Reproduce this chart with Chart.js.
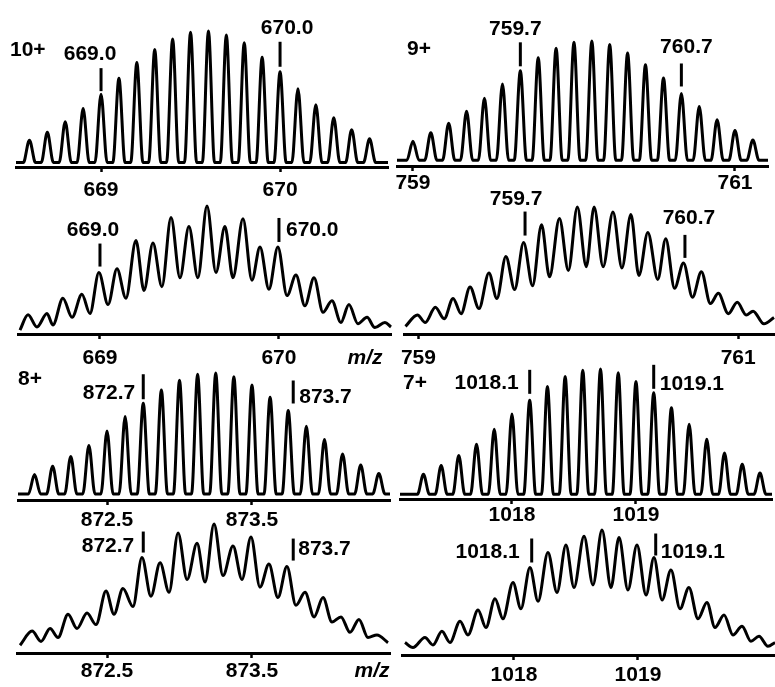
<!DOCTYPE html>
<html>
<head>
<meta charset="utf-8">
<script src="https://cdn.jsdelivr.net/npm/chart.js@4.4.1/dist/chart.umd.min.js"></script>
<style>
  html, body { margin: 0; padding: 0; background: #fff; }
  #figure { position: relative; width: 775px; height: 687px; overflow: hidden; }
  #figure canvas { position: absolute; }
</style>
</head>
<body>
<div id="figure"></div>
<script>
// ---- isotope peaks, high resolution (m/z, relative intensity) ----
const mz10 = [668.6, 668.7, 668.8, 668.9, 669.0, 669.1, 669.2, 669.3, 669.4, 669.5, 669.6, 669.7, 669.8, 669.9, 670.0, 670.1, 670.2, 670.3, 670.4, 670.5];
const int10 = [17, 23, 31, 41, 52, 64, 76, 86, 94, 99, 100, 97, 91, 80, 69, 56, 44, 34, 25, 18];

const mz9 = [759.000, 759.111, 759.222, 759.333, 759.444, 759.556, 759.667, 759.778, 759.889, 760.000, 760.111, 760.222, 760.333, 760.444, 760.556, 760.667, 760.778, 760.889, 761.000, 761.111];
const int9 = [16, 23, 31, 41, 52, 64, 75, 86, 94, 99, 100, 97, 90, 80, 69, 56, 45, 34, 25, 17];

const mz8 = [872.000, 872.125, 872.250, 872.375, 872.500, 872.625, 872.750, 872.875, 873.000, 873.125, 873.250, 873.375, 873.500, 873.625, 873.750, 873.875, 874.000, 874.125, 874.250, 874.375];
const int8 = [16, 23, 31, 40, 52, 64, 75, 86, 94, 99, 100, 97, 90, 80, 69, 56, 45, 33, 24, 17];

const mz7 = [1017.286, 1017.429, 1017.571, 1017.714, 1017.857, 1018.000, 1018.143, 1018.286, 1018.429, 1018.571, 1018.714, 1018.857, 1019.000, 1019.143, 1019.286, 1019.429, 1019.571, 1019.714, 1019.857, 1020.000];
const int7 = [16, 23, 31, 40, 52, 64, 75, 86, 94, 99, 100, 97, 90, 81, 69, 56, 44, 33, 24, 17];

// ---- low resolution traces (maxima / minima of the profile) ----
const lowMz10 = [668.553, 668.598, 668.648, 668.704, 668.737, 668.793, 668.844, 668.899, 668.944, 668.994, 669.045, 669.095, 669.145, 669.201, 669.246, 669.296, 669.346, 669.397, 669.447, 669.497, 669.547, 669.598, 669.648, 669.698, 669.743, 669.799, 669.849, 669.894, 669.944, 669.994, 670.045, 670.095, 670.145, 670.196, 670.246, 670.296, 670.346, 670.391, 670.441, 670.492, 670.536, 670.592, 670.626];
const lowInt10 = [3, 15, 5.5, 16, 7, 28, 13, 31, 16, 48, 23, 51, 28, 73, 34, 71, 37, 91, 44, 84, 44, 100, 48, 84, 44, 90, 42, 68, 35, 68, 30, 46, 22, 44, 17, 26, 9, 23, 8, 13, 5, 9, 5.5];

const lowMz9 = [758.919, 758.994, 759.043, 759.106, 759.161, 759.217, 759.267, 759.323, 759.379, 759.441, 759.491, 759.547, 759.602, 759.658, 759.714, 759.770, 759.820, 759.882, 759.938, 759.994, 760.050, 760.099, 760.155, 760.217, 760.273, 760.329, 760.379, 760.435, 760.497, 760.547, 760.602, 760.658, 760.714, 760.770, 760.826, 760.876, 760.938, 760.994, 761.050, 761.093, 761.161, 761.224];
const lowInt9 = [6, 15, 9, 21, 12, 28, 16, 37, 20, 48, 28, 61, 35, 72, 38, 86, 45, 91, 50, 100, 53, 100, 53, 96, 52, 94, 46, 80, 43, 75, 36, 56, 29, 49, 24, 32, 16, 25, 15, 18, 8, 13];

const lowMz8 = [871.900, 871.983, 872.045, 872.107, 872.162, 872.231, 872.293, 872.362, 872.424, 872.493, 872.548, 872.610, 872.679, 872.741, 872.803, 872.866, 872.928, 872.990, 873.052, 873.121, 873.176, 873.238, 873.300, 873.369, 873.431, 873.493, 873.555, 873.617, 873.679, 873.741, 873.803, 873.866, 873.928, 873.990, 874.052, 874.114, 874.176, 874.238, 874.300, 874.362, 874.438];
const lowInt8 = [6, 17, 9, 19, 12, 30, 19, 31, 22, 48, 30, 50, 36, 74, 44, 70, 47, 93, 57, 85, 55, 100, 60, 83, 57, 90, 51, 69, 43, 67, 37, 47, 28, 43, 24, 28, 16, 26, 12, 14, 8];

const lowMz7 = [1017.121, 1017.185, 1017.282, 1017.347, 1017.419, 1017.484, 1017.565, 1017.629, 1017.710, 1017.774, 1017.847, 1017.911, 1017.992, 1018.056, 1018.129, 1018.194, 1018.274, 1018.347, 1018.419, 1018.484, 1018.565, 1018.637, 1018.710, 1018.782, 1018.847, 1018.919, 1018.992, 1019.065, 1019.129, 1019.194, 1019.266, 1019.339, 1019.411, 1019.484, 1019.556, 1019.621, 1019.694, 1019.766, 1019.839, 1019.911, 1019.976, 1020.048, 1020.105];
const lowInt7 = [10, 6, 14, 8, 19, 10, 27, 16, 36, 22, 45, 29, 58, 37, 70, 43, 82, 50, 88, 54, 95, 56, 100, 54, 94, 52, 88, 48, 78, 44, 68, 37, 54, 29, 42, 22, 32, 16, 23, 11, 15, 7, 10];

// ---- tick values ----
const ticks10 = [669, 670];
const ticks9 = [759, 761];
const ticks8 = [872.5, 873.5];
const ticks7 = [1018, 1019];

const FONT = 'Arial, "Liberation Sans", sans-serif';

// stick list -> narrow peaks sitting on a flat baseline
function peakProfile(mz, heights, halfWidth, xMin, xMax) {
  const pts = [{ x: xMin, y: 0 }];
  mz.forEach((m, i) => {
    pts.push({ x: m - halfWidth, y: 0 }, { x: m, y: heights[i] }, { x: m + halfWidth, y: 0 });
  });
  pts.push({ x: xMax, y: 0 });
  return pts;
}

function lowResTrace(mz, values) {
  return mz.map((m, i) => ({ x: m, y: values[i] }));
}

/* charge state, peak markers and the m/z title (one plugin per panel) */
function makeLabelPlugin(p) {
  return {
    id: 'peakLabels',
    afterDraw(chart) {
      const { ctx, chartArea } = chart;
      const xs = chart.scales.x;
      const ys = chart.scales.y;
      const pts = p.data;
      ctx.save();
      ctx.fillStyle = '#000';
      ctx.strokeStyle = '#000';
      ctx.font = 'bold 21px ' + FONT;
      ctx.textBaseline = 'middle';

      if (p.charge) {
        ctx.textAlign = 'left';
        ctx.fillText(p.charge.text, chartArea.left + p.charge.dx, chartArea.top + p.charge.dy);
      }

      (p.marks || []).forEach(m => {
        const apex = pts.reduce((best, q) => Math.abs(q.x - m.mz) < Math.abs(best.x - m.mz) ? q : best);
        const x = xs.getPixelForValue(m.mz) + (m.shift || 0);
        const bottom = ys.getPixelForValue(apex.y) - m.gap;
        const top = bottom - m.len;
        ctx.lineWidth = 3;
        ctx.beginPath();
        ctx.moveTo(x, top);
        ctx.lineTo(x, bottom);
        ctx.stroke();
        if (m.place === 'above') {
          ctx.textAlign = 'center';
          ctx.fillText(m.text, x + m.dx, top + m.dy);
        } else if (m.place === 'left') {
          ctx.textAlign = 'right';
          ctx.fillText(m.text, x - m.dx, top + m.dy);
        } else {
          ctx.textAlign = 'left';
          ctx.fillText(m.text, x + m.dx, top + m.dy);
        }
      });

      if (p.axisTitle) {
        ctx.font = 'italic bold 21px ' + FONT;
        ctx.textAlign = 'center';
        ctx.fillText('m/z', chartArea.right + p.axisTitle.dx, chartArea.bottom + p.axisTitle.dy);
      }
      ctx.restore();
    }
  };
}

// panel layout: canvas box, chart padding, axis range, annotations
const panels = [
  { left: 0, top: 0, width: 392, height: 202, pad: { left: 16, right: 4, top: 31 },
    xMin: 668.525, xMax: 670.603, yMin: -3.4, ticks: ticks10, tickPad: 7.5,
    data: peakProfile(mz10, int10, 0.034, 668.525, 670.603),
    charge: { text: '10+', dx: -6, dy: 19.5 },
    marks: [
      { mz: 669.0, text: '669.0', gap: 3, len: 23, place: 'above', dx: -11, dy: -14 },
      { mz: 670.0, text: '670.0', gap: 5, len: 25, place: 'above', dx: 7, dy: -14 }
    ] },
  { left: 0, top: 198, width: 392, height: 171, pad: { left: 18, right: 1, top: 8 },
    xMin: 668.542, xMax: 670.626, yMin: 0, ticks: ticks10, tickPad: 8.5,
    data: lowResTrace(lowMz10, lowInt10),
    marks: [
      { mz: 669.0, text: '669.0', gap: 6, len: 23, place: 'above', dx: -7, dy: -13 },
      { mz: 670.0, text: '670.0', gap: 5, len: 24, place: 'right', dx: 7, dy: 12 }
    ],
    axisTitle: { dx: -26, dy: 24 } },
  { left: 392, top: 0, width: 383, height: 201, pad: { left: 5, right: 7, top: 41 },
    xMin: 758.901, xMax: 761.205, yMin: -4.8, ticks: ticks9, tickPad: 1.5,
    data: peakProfile(mz9, int9, 0.038, 758.901, 761.205),
    charge: { text: '9+', dx: 10, dy: 8 },
    marks: [
      { mz: 759.667, text: '759.7', gap: 4.5, len: 24, place: 'above', dx: -5, dy: -13 },
      { mz: 760.667, text: '760.7', gap: 7, len: 23, place: 'above', dx: 5, dy: -16 }
    ] },
  { left: 392, top: 185, width: 383, height: 184, pad: { left: 10, right: 1, top: 22 },
    xMin: 758.913, xMax: 761.224, yMin: 0, ticks: ticks9, tickPad: 8.5,
    data: lowResTrace(lowMz9, lowInt9),
    marks: [
      { mz: 759.667, text: '759.7', gap: 7, len: 24, place: 'above', dx: -9, dy: -12 },
      { mz: 760.667, text: '760.7', gap: 5, len: 23, place: 'above', dx: 4, dy: -17 }
    ] },
  { left: 0, top: 360, width: 392, height: 175, pad: { left: 18, right: 2, top: 13 },
    xMin: 871.886, xMax: 874.452, yMin: -5.0, ticks: ticks8, tickPad: 4.5,
    data: peakProfile(mz8, int8, 0.042, 871.886, 874.452),
    charge: { text: '8+', dx: 0, dy: 6 },
    marks: [
      { mz: 872.75, text: '872.7', gap: 4, len: 25, place: 'left', dx: 8, dy: 19 },
      { mz: 873.75, text: '873.7', gap: 7, len: 23, place: 'right', dx: 6, dy: 17, shift: 5 }
    ] },
  { left: 392, top: 358, width: 383, height: 176, pad: { left: 8, right: 3, top: 11 },
    xMin: 1017.097, xMax: 1020.097, yMin: -3.75, ticks: ticks7, tickPad: 0.5,
    data: peakProfile(mz7, int7, 0.048, 1017.097, 1020.097),
    charge: { text: '7+', dx: 3, dy: 14 },
    marks: [
      { mz: 1018.143, text: '1018.1', gap: 6.5, len: 24, place: 'left', dx: 11, dy: 13 },
      { mz: 1019.143, text: '1019.1', gap: 4, len: 24, place: 'right', dx: 6, dy: 19 }
    ] },
  { left: 0, top: 515, width: 392, height: 173, pad: { left: 17, right: 2, top: 9 },
    xMin: 871.879, xMax: 874.452, yMin: 0, ticks: ticks8, tickPad: 2.5,
    data: lowResTrace(lowMz8, lowInt8),
    marks: [
      { mz: 872.75, text: '872.7', gap: 5, len: 21, place: 'left', dx: 9, dy: 15 },
      { mz: 873.75, text: '873.7', gap: 6, len: 22, place: 'right', dx: 5, dy: 11, shift: 5 }
    ],
    axisTitle: { dx: -18, dy: 18 } },
  { left: 392, top: 520, width: 383, height: 170, pad: { left: 10, right: 0, top: 10 },
    xMin: 1017.097, xMax: 1020.105, yMin: 0, ticks: ticks7, tickPad: 4.5,
    data: lowResTrace(lowMz7, lowInt7),
    marks: [
      { mz: 1018.143, text: '1018.1', gap: 5, len: 24, place: 'left', dx: 12, dy: 14 },
      { mz: 1019.143, text: '1019.1', gap: 2, len: 22, place: 'right', dx: 5, dy: 19 }
    ] }
];

const figure = document.getElementById('figure');

panels.forEach(p => {
  const canvas = document.createElement('canvas');
  canvas.width = p.width;
  canvas.height = p.height;
  canvas.style.left = p.left + 'px';
  canvas.style.top = p.top + 'px';
  figure.appendChild(canvas);

  new Chart(canvas, {
    type: 'line',
    data: {
      datasets: [{
        data: p.data,
        borderColor: '#000',
        borderWidth: 3,
        pointRadius: 0,
        fill: false,
        cubicInterpolationMode: 'monotone',
        borderJoinStyle: 'round',
        clip: false
      }]
    },
    options: {
      responsive: false,
      animation: false,
      events: [],
      layout: { padding: { left: p.pad.left, right: p.pad.right, top: p.pad.top, bottom: 0 } },
      scales: {
        x: {
          type: 'linear',
          min: p.xMin,
          max: p.xMax,
          border: { display: true, color: '#000', width: 3 },
          grid: { display: true, drawOnChartArea: false, drawTicks: true, tickLength: 5, tickWidth: 2.5, tickColor: '#000' },
          ticks: {
            color: '#000',
            padding: p.tickPad,
            maxRotation: 0,
            autoSkip: false,
            font: { family: FONT, size: 21, weight: 'bold', lineHeight: 1 },
            callback: v => String(v)
          },
          afterBuildTicks: scale => { scale.ticks = p.ticks.map(v => ({ value: v })); },
          afterFit: scale => { scale.height = 35; }
        },
        y: { type: 'linear', display: false, min: p.yMin, max: 100 }
      },
      plugins: {
        legend: { display: false },
        tooltip: { enabled: false }
      }
    },
    plugins: [makeLabelPlugin(p)]
  });
});
</script>
</body>
</html>
